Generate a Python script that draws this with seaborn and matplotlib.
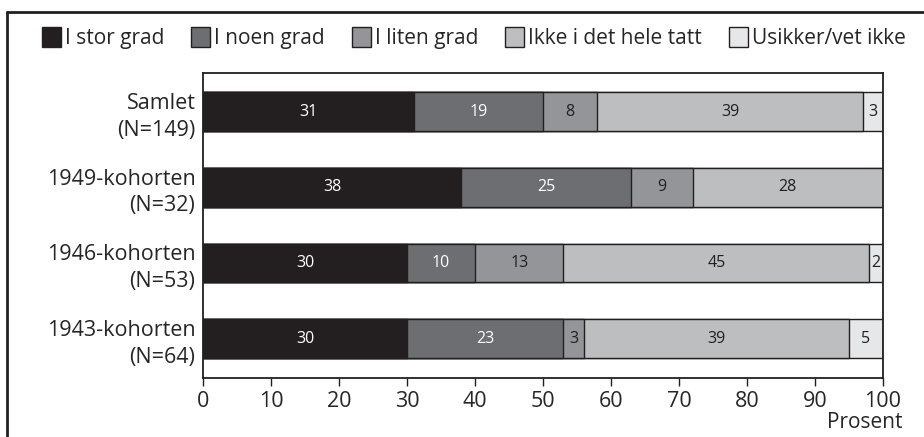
import pandas as pd
import matplotlib.pyplot as plt
import seaborn as sns
from matplotlib.patches import Patch
from matplotlib.lines import Line2D

# data (prosent)
grupper = ["Samlet\n(N=149)", "1949-kohorten\n(N=32)", "1946-kohorten\n(N=53)", "1943-kohorten\n(N=64)"]
kategorier = ["I stor grad", "I noen grad", "I liten grad", "Ikke i det hele tatt", "Usikker/vet ikke"]
stor_grad = [31, 38, 30, 30]
noen_grad = [19, 25, 10, 23]
liten_grad = [8, 9, 13, 3]
ikke_i_det_hele_tatt = [39, 28, 45, 39]
usikker = [3, 0, 2, 5]

farger = ["#231f20", "#6d6e71", "#939598", "#bcbec0", "#e6e7e8"]
tekstfarger = ["white", "white", "#231f20", "#231f20", "#231f20"]

sns.set_style("white")
plt.rcParams['font.family'] = ['Open Sans', 'DejaVu Sans']

df = pd.DataFrame({"gruppe": grupper,
                   kategorier[0]: stor_grad,
                   kategorier[1]: noen_grad,
                   kategorier[2]: liten_grad,
                   kategorier[3]: ikke_i_det_hele_tatt,
                   kategorier[4]: usikker})
cum = df[kategorier].cumsum(axis=1)

fig = plt.figure(figsize=(9.24, 4.37), dpi=100)
ax = fig.add_axes([0.2197, 0.135, 0.7359, 0.698])

# stacked bars: draw cumulative totals from the back
for i in range(len(kategorier) - 1, -1, -1):
    sns.barplot(x=cum[kategorier[i]], y=df["gruppe"], orient="h", color=farger[i],
                width=0.51, edgecolor="#231f20", linewidth=1, saturation=1, ax=ax)

# value labels
for i, k in enumerate(kategorier):
    for j in range(len(grupper)):
        v = df[k][j]
        if v == 0:
            continue
        midt = cum[k][j] - v / 2
        ax.text(midt, j, str(v), ha="center", va="center", fontsize=11.5, color=tekstfarger[i])

ax.set_xlim(0, 100)
ax.set_ylim(3.52, -0.51)
ax.set_xticks(range(0, 101, 10))
ax.set_xlabel("")
ax.set_ylabel("")
ax.tick_params(axis="x", bottom=True, length=6, width=1, labelsize=15.5, color="#231f20", pad=3)
ax.tick_params(axis="y", left=False, labelsize=15.5, pad=2)
for s in ax.spines.values():
    s.set_visible(True)
    s.set_color("#231f20")
    s.set_linewidth(1.3)
for lab in ax.get_yticklabels():
    lab.set_horizontalalignment("right")
    lab.set_multialignment("right")
    lab.set_linespacing(1.35)

fig.text(0.977, 0.034, "Prosent", ha="right", va="center", fontsize=15)

# legend
handles = [Patch(facecolor=farger[i], edgecolor="#231f20", linewidth=1) for i in range(5)]
fig.legend(handles, kategorier, loc="center left", bbox_to_anchor=(0.034, 0.913), ncol=5,
           frameon=False, fontsize=15, handlelength=0.9, handleheight=1.1,
           handletextpad=0.2, columnspacing=1.3, borderpad=0)

# outer frame
fig.add_artist(Line2D([0.0076, 0.0076], [0, 0.972], transform=fig.transFigure, color="#231f20", lw=2))
fig.add_artist(Line2D([0.0076, 1.0], [0.972, 0.972], transform=fig.transFigure, color="#231f20", lw=2))

fig.savefig("out.png", dpi=100)
